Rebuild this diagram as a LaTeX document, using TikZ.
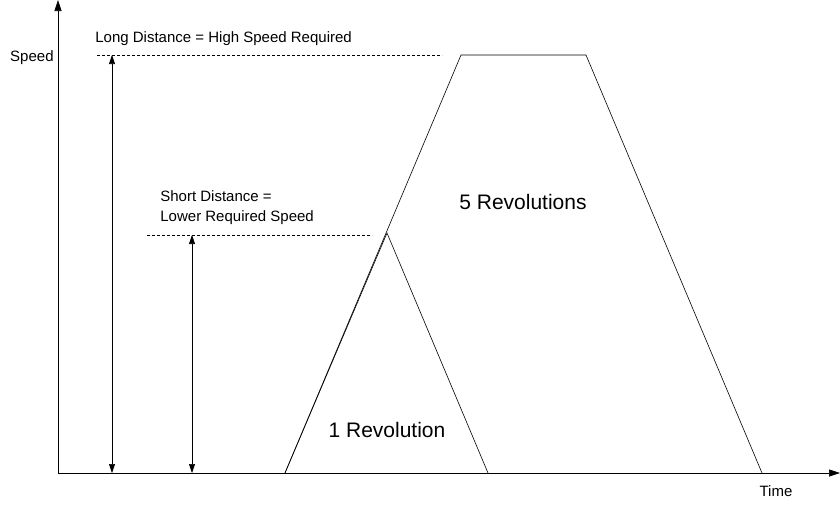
\documentclass[tikz,border=0pt]{standalone}
\usepackage{fontspec}
\setmainfont{Liberation Sans}
\usetikzlibrary{arrows.meta, positioning}

\begin{document}
\begin{tikzpicture}[x=1pt, y=-1pt, thick, every node/.style={font=\fontsize{15}{17}\selectfont, inner sep=0pt}]
				\useasboundingbox (0,0) rectangle (840,504);
				\tikzset{guide/.style={densely dashed, thin}, span/.style={{Triangle[length=9pt,width=6pt]}-{Triangle[length=9pt,width=6pt]}, semithick}}

				% axes
				\coordinate (origin) at (58,473);
				\coordinate (ytop) at (58,0);
				\coordinate (xend) at (840,473);
				\draw[-{Triangle[length=11pt,width=7pt]}, semithick] (origin) -- (ytop);
				\draw[-{Triangle[length=11pt,width=7pt]}, semithick] (origin) -- (xend);
				\node[anchor=east] (speed) at (54,58) {Speed};
				\node (time) at (776,491) {Time};

				% profiles
				\coordinate (start) at (285,473);
				\coordinate (peak) at (387,233);
				\coordinate (stop) at (488,473);
				\coordinate (topleft) at (461,55);
				\coordinate (topright) at (586,55);
				\coordinate (end) at (762,473);
				\draw[semithick] (start) -- (peak) -- (stop);
				\draw[semithick] (start) -- (topleft) -- (topright) -- (end);
				\node[font=\fontsize{21}{24}\selectfont] (five) at (523,202) {5 Revolutions};
				\node[font=\fontsize{21}{24}\selectfont] (one) at (387,430) {1 Revolution};

				% long distance
				\coordinate (longa) at (97,55);
				\coordinate (longb) at (442,55);
				\draw[guide] (longa) -- (longb);
				\node[anchor=south west] (longlbl) at (95,46) {Long Distance = High Speed Required};
				\coordinate (longtop) at (112,55);
				\coordinate (longbot) at (112,473);
				\draw[span] (longtop) -- (longbot);

				% short distance
				\coordinate (shorta) at (147,235);
				\coordinate (shortb) at (372,235);
				\draw[guide] (shorta) -- (shortb);
				\node[anchor=north west, align=left, font=\fontsize{15}{20}\selectfont] (shortlbl) at (160,190) {Short Distance =\\Lower Required Speed};
				\coordinate (shorttop) at (192,235);
				\coordinate (shortbot) at (192,473);
				\draw[span] (shorttop) -- (shortbot);
			\end{tikzpicture}
\end{document}
